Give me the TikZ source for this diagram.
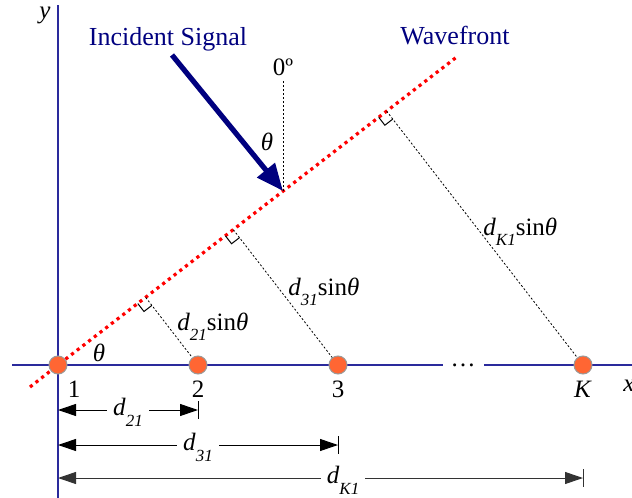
\documentclass[tikz,border=0pt]{standalone}
\usepackage{fontspec}
\setmainfont{Liberation Serif}
\usetikzlibrary{arrows.meta,calc,positioning}
\definecolor{Navy}{HTML}{00007F}
\definecolor{AxisBlue}{HTML}{2A2A9C}
\definecolor{Sensor}{HTML}{FF6633}
\definecolor{Rim}{HTML}{9A9A9A}
\definecolor{Front}{HTML}{FF0000}
\newcommand{\dsub}[1]{\textit{d}\raisebox{-.42em}{\fontsize{8.5}{9}\selectfont\textit{#1}}}
\newcommand{\dsin}[1]{\dsub{#1}sin\textit{θ}}
\tikzset{lbl/.style={font=\fontsize{12.5}{15}\selectfont,inner sep=2pt},title/.style={font=\fontsize{13}{15}\selectfont,text=Navy},axis/.style={draw=AxisBlue,line width=.6pt},sensor/.style={circle,fill=Sensor,draw=Rim,line width=.5pt,minimum size=9pt,inner sep=0pt},front/.style={draw=Front,line width=1.6pt,dash pattern=on 1.6pt off 2pt},guide/.style={line width=.4pt,dash pattern=on 1pt off 1pt},signal/.style={draw=Navy,line width=2.6pt,-{Triangle[length=13.5pt,width=11pt]}},dim/.style={{Triangle[length=9pt,width=6pt]}-{Triangle[length=9pt,width=6pt]},line width=.5pt},dimlbl/.style={lbl,fill=white,inner xsep=3pt,yshift=-1.2pt}}

\begin{document}
\begin{tikzpicture}[x=.5pt,y=-.5pt]
  \useasboundingbox (0,0) rectangle (632,498);
  \draw[axis] (12,365) -- (632,365);
  \draw[axis] (58,5) -- (58,498);
  \node[lbl] (ylab) at (45,15) {\textit{y}};
  \node[lbl] (xlab) at (629,386) {\textit{x}};
  \node[lbl,fill=white,minimum width=20.5pt,minimum height=3pt,inner sep=0pt] (more) at (463,365) {\dots};
  \node[sensor] (e1) at (58,365) {};
  \node[sensor] (e2) at (198,365) {};
  \node[sensor] (e3) at (338,365) {};
  \node[sensor] (eK) at (583,365) {};
  \node[lbl,below=1pt of e1,xshift=8pt] (n1) {1};
  \node[lbl,below=1pt of e2] (n2) {2};
  \node[lbl,below=1pt of e3] (n3) {3};
  \node[lbl,below=1pt of eK] (nK) {\textit{K}};
  \coordinate (wf0) at (30,387);
  \coordinate (wf1) at (458,56);
  \draw[front] (wf0) -- (e1) -- (wf1);
  \foreach \e in {2,3,K}{
    \coordinate (f\e) at ($(wf0)!(e\e)!(wf1)$);
    \draw[guide] (f\e) -- (e\e);
    \coordinate (a\e) at ($(f\e)!5pt!(e\e)$);
    \coordinate (b\e) at ($(f\e)!5pt!(wf0)$);
    \draw[line width=.5pt] (a\e) -- ($(a\e)+(b\e)-(f\e)$) -- (b\e);
  }
  \node[lbl,anchor=base west] (s2) at (173,330) {\dsin{21}};
  \node[lbl,anchor=base west] (s3) at (284,295) {\dsin{31}};
  \node[lbl,anchor=base west] (sK) at (479,235) {\dsin{K1}};
  \coordinate (src) at (172,55);
  \coordinate (hit) at (283,191);
  \coordinate (zen) at (283,80);
  \draw[guide] (hit) -- (zen);
  \draw[signal] (src) -- (hit);
  \node[lbl,above=0pt of zen] (zero) {0º};
  \node[lbl] (th1) at (267,142) {\textit{θ}};
  \node[lbl] (th0) at (99,353) {\textit{θ}};
  \node[title] (inc) at (168,39) {Incident Signal};
  \node[title] (wave) at (455,36) {Wavefront};
  \foreach \e/\y/\s/\p/\c in {2/410/21/.5/black,3/445/31/.5/black,K/478/K1/.543/black!80}{
    \coordinate (r\e) at (0,\y);
    \draw[dim,\c] (e1 |- r\e) -- node[dimlbl,pos=\p,text=black]{\dsub{\s}} (e\e |- r\e);
    \draw[line width=.5pt,\c] ($(e\e |- r\e)+(0,-9)$) -- ($(e\e |- r\e)+(0,9)$);
  }
\end{tikzpicture}
\end{document}
